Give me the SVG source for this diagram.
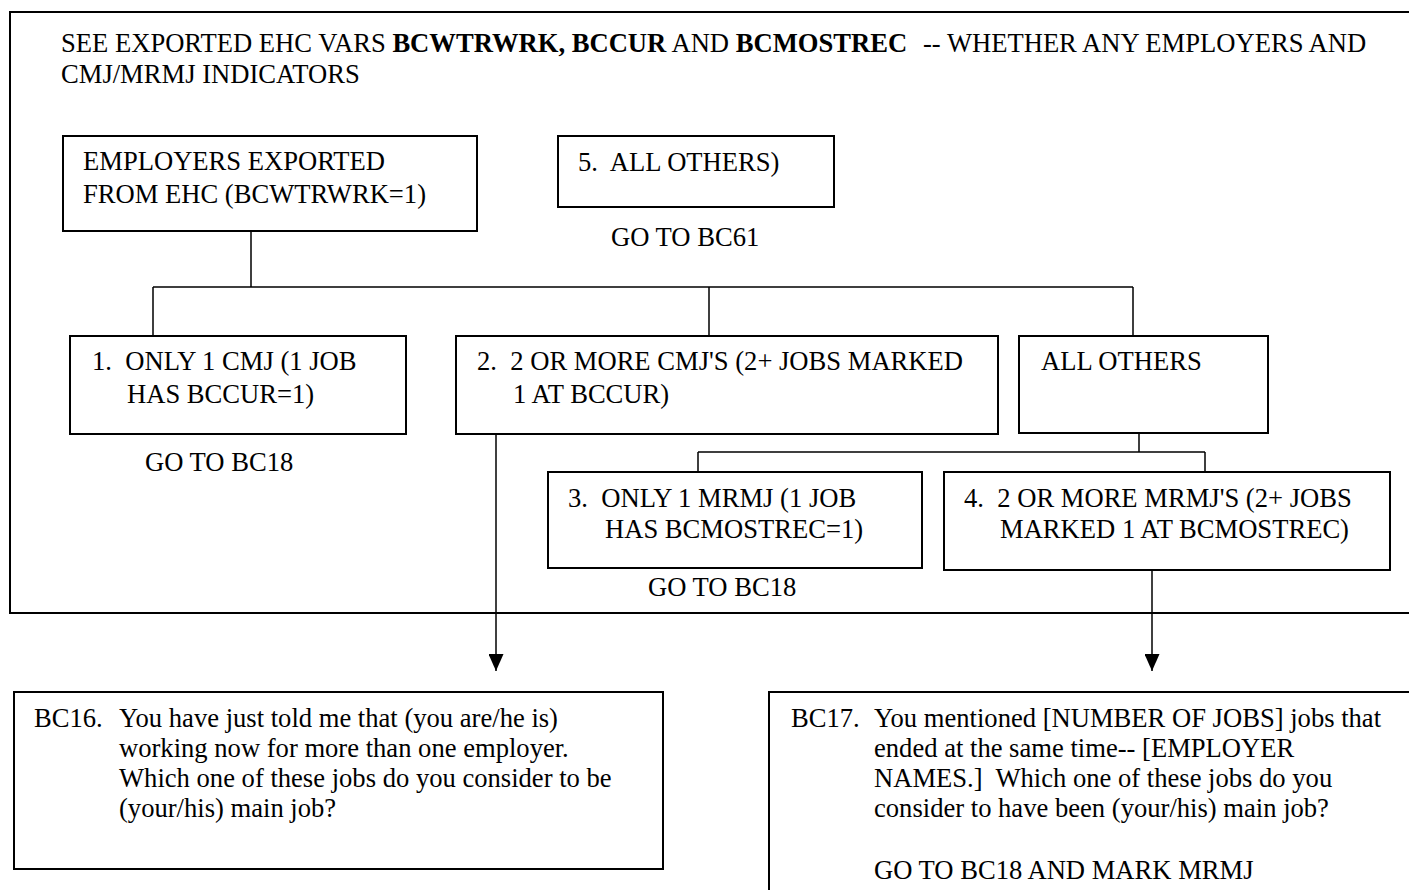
<svg xmlns="http://www.w3.org/2000/svg" width="1409" height="890" viewBox="0 0 1409 890">
<style>
text { font-family: "Liberation Serif", "Times New Roman", serif; font-size: 26.6px; fill: #000; }
.b { font-weight: bold; }
.box { fill: #fff; stroke: #000; stroke-width: 2; }
.frame { fill: none; stroke: #000; stroke-width: 2; }
.conn { fill: none; stroke: #000; stroke-width: 1.5; }
</style>
<defs>
<marker id="arr" markerUnits="userSpaceOnUse" markerWidth="17" markerHeight="15" viewBox="0 0 17 15" refX="17" refY="7.5" orient="auto">
<path d="M0,0 L17,7.5 L0,15 Z" fill="#000"/>
</marker>
</defs>
<rect x="0" y="0" width="1409" height="890" fill="#fff"/>

<g id="frame">
<rect class="frame" x="10" y="12" width="1420" height="601"/>
<text x="61" y="52">SEE EXPORTED EHC VARS <tspan class="b">BCWTRWRK, BCCUR</tspan> AND <tspan class="b">BCMOSTREC</tspan><tspan x="923">-- WHETHER ANY EMPLOYERS AND</tspan></text>
<text x="61" y="83">CMJ/MRMJ INDICATORS</text>
</g>

<g id="connectors">
<path class="conn" d="M251,231 V287 M153,287 H1133 M153,287 V336 M709,287 V336 M1133,287 V336"/>
<path class="conn" d="M1139,433 V452 M698,452 H1205 M698,452 V472 M1205,452 V472"/>
<path class="conn" d="M496,434 V671" marker-end="url(#arr)"/>
<path class="conn" d="M1152,570 V671" marker-end="url(#arr)"/>
</g>

<g id="employers">
<rect class="box" x="63" y="136" width="414" height="95"/>
<text x="83" y="170">EMPLOYERS EXPORTED</text>
<text x="83" y="203">FROM EHC (BCWTRWRK=1)</text>
</g>

<g id="all-others-5">
<rect class="box" x="558" y="136" width="276" height="71"/>
<text x="578" y="171" xml:space="preserve">5.  ALL OTHERS)</text>
<text x="611" y="246">GO TO BC61</text>
</g>

<g id="opt1">
<rect class="box" x="70" y="336" width="336" height="98"/>
<text x="92" y="370" xml:space="preserve">1.  ONLY 1 CMJ (1 JOB</text>
<text x="127" y="403">HAS BCCUR=1)</text>
<text x="145" y="471">GO TO BC18</text>
</g>

<g id="opt2">
<rect class="box" x="456" y="336" width="542" height="98"/>
<text x="477" y="370" xml:space="preserve">2.  2 OR MORE CMJ'S (2+ JOBS MARKED</text>
<text x="513" y="403">1 AT BCCUR)</text>
</g>

<g id="all-others">
<rect class="box" x="1019" y="336" width="249" height="97"/>
<text x="1041" y="370">ALL OTHERS</text>
</g>

<g id="opt3">
<rect class="box" x="548" y="472" width="374" height="96"/>
<text x="568" y="507" xml:space="preserve">3.  ONLY 1 MRMJ (1 JOB</text>
<text x="605" y="538">HAS BCMOSTREC=1)</text>
<text x="648" y="596">GO TO BC18</text>
</g>

<g id="opt4">
<rect class="box" x="944" y="472" width="446" height="98"/>
<text x="964" y="507" xml:space="preserve">4.  2 OR MORE MRMJ'S (2+ JOBS</text>
<text x="1000" y="538">MARKED 1 AT BCMOSTREC)</text>
</g>

<g id="bc16">
<rect class="box" x="14" y="692" width="649" height="177"/>
<text x="34" y="727">BC16.</text>
<text x="119" y="727">You have just told me that (you are/he is)</text>
<text x="119" y="757">working now for more than one employer.</text>
<text x="119" y="787">Which one of these jobs do you consider to be</text>
<text x="119" y="817">(your/his) main job?</text>
</g>

<g id="bc17">
<rect class="box" x="769" y="692" width="700" height="300"/>
<text x="791" y="727">BC17.</text>
<text x="874" y="727">You mentioned [NUMBER OF JOBS] jobs that</text>
<text x="874" y="757">ended at the same time-- [EMPLOYER</text>
<text x="874" y="787" xml:space="preserve">NAMES.]  Which one of these jobs do you</text>
<text x="874" y="817">consider to have been (your/his) main job?</text>
<text x="874" y="879">GO TO BC18 AND MARK MRMJ</text>
</g>
</svg>
